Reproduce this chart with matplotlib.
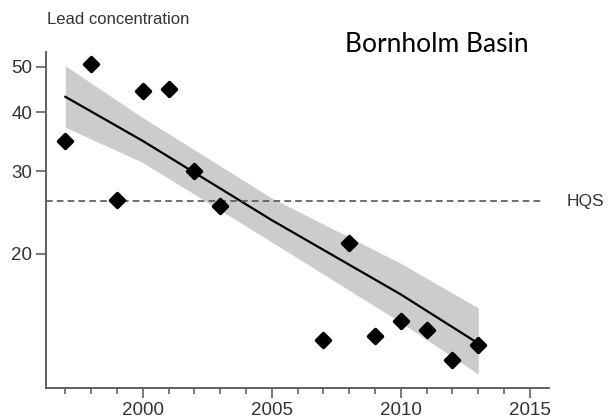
import numpy as np
import matplotlib.pyplot as plt
from matplotlib.markers import MarkerStyle
from matplotlib.ticker import FixedLocator, NullFormatter, NullLocator

# observed lead concentrations (log scale)
years = [1997, 1998, 1999, 2000, 2001, 2002, 2003,
         2007, 2008, 2009, 2010, 2011, 2012, 2013]
lead = [34.7, 50.7, 26.0, 44.5, 44.9, 30.1, 25.3,
        13.1, 21.1, 13.4, 14.4, 13.8, 11.9, 12.8]

# fitted trend and its confidence band
trend_years = [1997, 2000, 2005, 2010, 2013]
trend = [43.2, 34.8, 23.6, 16.4, 12.9]
band_upper = [50.3, 39.0, 26.3, 19.1, 15.35]
band_lower = [37.2, 31.3, 21.2, 14.3, 11.1]

hqs = 25.9
y_ticks = [20, 30, 40, 50]
x_ticks = [2000, 2005, 2010, 2015]

axis_col = '#555555'
text_col = '#333333'

plt.rcParams['font.family'] = ['Liberation Sans', 'DejaVu Sans']

fig = plt.figure(figsize=(6.11, 4.19), dpi=100)
ax = fig.add_axes([46 / 611, 31 / 419, 503 / 611, 336 / 419])

ax.fill_between(trend_years, band_lower, band_upper, color='#cccccc', lw=0, zorder=1)
ax.plot(trend_years, trend, color='black', lw=1.6, zorder=2)
ax.axhline(hqs, xmax=0.99, color=axis_col, lw=1.2, ls=(0, (4, 2.5)), zorder=2)
ax.plot(years, lead, ls='none', marker=MarkerStyle('D', joinstyle='round'),
        ms=7.5, color='black', mec='black', mew=2.5, zorder=3)

ax.set_yscale('log')
ax.set_xlim(1996.25, 2015.74)
ax.set_ylim(10.37, 53.8)

ax.yaxis.set_major_locator(FixedLocator(y_ticks))
ax.yaxis.set_minor_locator(NullLocator())
ax.set_yticklabels([str(v) for v in y_ticks])
ax.set_xticks(x_ticks)
ax.set_xticks(range(1997, 2016), minor=True)
ax.xaxis.set_minor_formatter(NullFormatter())

for side in ['top', 'right']:
    ax.spines[side].set_visible(False)
for side in ['left', 'bottom']:
    ax.spines[side].set_color(axis_col)
    ax.spines[side].set_linewidth(1.3)

ax.tick_params(which='major', direction='out', length=7, width=1.1,
               color=axis_col, labelcolor=text_col, labelsize=13.5, pad=3)
ax.tick_params(which='minor', direction='out', length=4, width=1.1, color=axis_col)

fig.text(47 / 611, 1 - 19 / 419, 'Lead concentration', fontsize=12,
         color=text_col, va='center', ha='left')
fig.text(437 / 611, 1 - 45 / 419, 'Bornholm Basin', fontsize=19,
         family=['Lato', 'DejaVu Sans'], color='black', va='center', ha='center')
ax.text(1.035, hqs, 'HQS', transform=ax.get_yaxis_transform(), fontsize=12.5,
        color=text_col, va='center', ha='left')

fig.savefig('out.png', dpi=100)
